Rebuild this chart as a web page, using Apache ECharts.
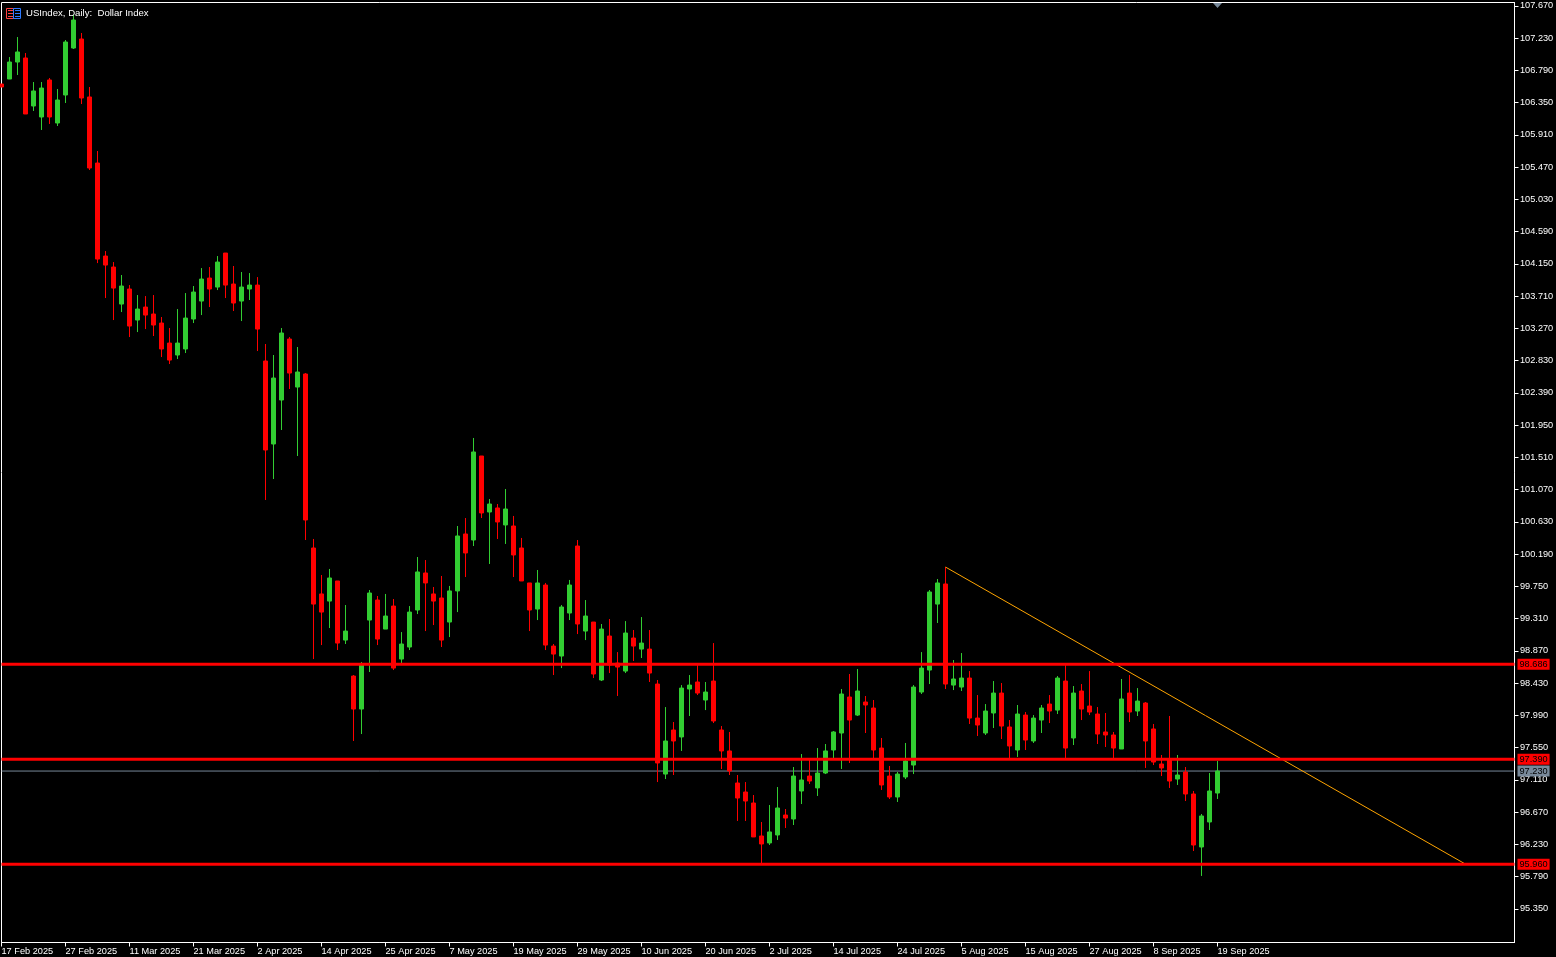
<!DOCTYPE html>
<html><head><meta charset="utf-8">
<style>html,body{margin:0;padding:0;background:#000;overflow:hidden}#c{width:1556px;height:957px}</style>
<script src="https://cdn.jsdelivr.net/npm/echarts@6/dist/echarts.min.js"></script>
</head><body><div id="c"></div>
<script>
const opens=[106.603,106.671,106.903,106.958,106.303,106.153,106.658,106.071,106.453,107.094,
107.217,106.426,105.525,104.256,104.106,103.601,103.806,103.383,103.560,103.465,
103.342,103.069,102.906,102.988,103.397,103.642,103.956,103.833,104.297,103.874,
103.642,103.806,103.860,102.824,101.692,102.292,103.124,102.469,102.647,100.273,
99.646,99.549,99.823,99.017,98.526,98.076,99.290,99.563,99.167,99.481,
98.758,98.922,99.427,99.932,99.646,99.591,99.263,99.687,100.464,100.382,
101.528,100.764,100.819,100.587,100.573,100.273,99.796,99.440,99.768,98.935,
98.799,99.386,100.300,99.140,99.263,98.472,99.072,98.703,98.594,99.045,
98.894,98.894,98.417,97.189,97.790,97.695,98.349,98.445,98.199,98.458,
97.790,97.504,97.067,96.944,96.794,96.344,96.249,96.358,96.630,96.576,
96.958,97.162,97.000,97.203,97.517,97.749,98.240,97.994,98.172,98.090,
97.544,97.162,96.876,97.149,97.312,98.308,98.608,99.508,99.782,98.403,
98.376,98.499,97.953,97.749,98.022,98.294,97.831,97.517,97.994,97.640,
97.926,98.144,98.062,98.458,97.681,98.322,98.117,98.008,97.763,97.722,
97.531,98.294,98.049,98.158,97.804,97.326,97.381,97.121,97.217,96.917,
96.194,96.535,96.930];
const closes=[106.562,106.903,107.040,106.194,106.508,106.548,106.153,106.385,107.176,107.476,
106.412,105.457,104.215,104.133,103.819,103.847,103.301,103.533,103.451,103.315,
102.988,102.837,103.069,103.410,103.765,103.942,103.806,104.174,103.860,103.615,
103.833,103.860,103.260,101.610,102.592,103.206,102.660,102.674,100.655,99.508,
99.399,99.864,98.976,99.140,98.076,98.676,99.659,99.031,99.345,98.635,
98.963,99.399,99.946,99.796,99.549,99.017,99.687,100.437,100.205,101.583,
100.751,100.873,100.628,100.805,100.178,99.823,99.427,99.796,98.949,98.826,
99.468,99.768,99.236,99.345,98.554,99.167,98.676,98.649,99.113,98.935,
98.976,98.567,97.340,97.640,97.640,98.362,98.403,98.294,98.308,97.913,
97.504,97.231,96.862,96.821,96.331,96.235,96.399,96.726,96.589,97.162,
97.108,97.094,97.203,97.504,97.763,98.281,97.926,98.322,98.131,97.517,
97.040,96.876,97.189,97.367,98.376,98.635,99.673,99.796,98.417,98.486,
98.499,97.953,97.858,98.049,98.294,97.844,97.572,98.008,97.653,97.953,
98.090,98.049,98.499,97.544,98.294,98.076,98.035,97.735,97.722,97.544,
98.213,98.035,98.185,97.640,97.353,97.272,97.094,97.176,96.917,96.221,
96.617,96.958,97.230];
const lows=[106.562,106.671,106.726,106.194,106.235,105.976,106.058,106.030,106.344,107.081,
106.330,105.430,104.160,103.683,103.383,103.492,103.151,103.219,103.260,103.165,
102.878,102.783,102.851,102.933,103.342,103.451,103.560,103.792,103.683,103.506,
103.369,103.656,102.960,100.928,101.214,101.883,102.442,101.528,100.382,98.758,
98.949,99.181,98.881,98.963,97.640,97.735,98.581,98.949,99.167,98.608,
98.676,98.881,99.372,99.140,99.222,98.922,99.058,99.399,99.877,100.300,
100.682,100.055,100.396,100.328,99.877,99.823,99.140,99.290,98.881,98.540,
98.635,99.290,99.099,99.017,98.499,98.458,98.567,98.254,98.567,98.731,
98.772,98.445,97.080,97.121,97.176,97.504,97.981,98.267,98.062,97.885,
97.258,97.176,96.549,96.549,96.331,95.976,96.221,96.290,96.453,96.494,
96.780,97.053,96.890,97.189,97.408,97.258,97.340,97.981,97.749,97.408,
96.972,96.849,96.808,97.121,97.189,98.281,98.417,99.250,98.349,98.335,
98.322,97.872,97.708,97.722,97.817,97.667,97.408,97.422,97.517,97.613,
97.749,97.885,98.008,97.408,97.585,97.926,97.994,97.599,97.558,97.408,
97.531,97.899,97.981,97.272,97.312,97.162,96.999,97.040,96.821,96.139,
95.799,96.426,96.849];
const highs=[106.603,106.971,107.244,107.026,106.630,106.630,106.685,106.535,107.203,107.544,
107.299,106.562,105.689,104.324,104.174,103.997,103.860,103.724,103.710,103.724,
103.424,103.274,103.533,103.751,103.847,104.092,104.106,104.256,104.297,104.120,
104.038,104.024,103.969,103.056,102.906,103.274,103.151,103.015,102.660,100.396,
99.905,99.987,99.823,99.495,98.540,98.717,99.700,99.618,99.646,99.577,
99.126,99.481,100.150,100.109,99.741,99.891,99.755,100.573,100.682,101.774,
101.528,100.941,100.873,101.078,100.710,100.410,99.796,99.973,99.796,98.963,
99.495,99.837,100.382,99.563,99.263,99.236,99.304,98.853,99.276,99.154,
99.331,99.154,98.472,98.103,97.899,98.403,98.540,98.676,98.445,98.976,
97.844,97.763,97.176,97.080,96.903,96.535,96.767,97.012,96.712,97.285,
97.462,97.381,97.544,97.599,97.776,98.349,98.554,98.622,98.254,98.199,
97.681,97.299,97.217,97.613,98.403,98.853,99.700,99.850,100.013,98.745,
98.840,98.594,98.267,98.144,98.458,98.431,97.926,98.131,98.035,97.994,
98.131,98.267,98.526,98.676,98.390,98.417,98.594,98.103,98.022,97.763,
98.486,98.540,98.362,98.172,97.872,97.449,97.981,97.449,97.285,96.958,
96.644,97.203,97.367];
const dateLabels=['17 Feb 2025','27 Feb 2025','11 Mar 2025','21 Mar 2025','2 Apr 2025','14 Apr 2025','25 Apr 2025','7 May 2025','19 May 2025','29 May 2025','10 Jun 2025','20 Jun 2025','2 Jul 2025','14 Jul 2025','24 Jul 2025','5 Aug 2025','15 Aug 2025','27 Aug 2025','8 Sep 2025','19 Sep 2025'];
const priceLabels=['95.350','95.790','96.230','96.670','97.110','97.550','97.990','98.430','98.870','99.310','99.750','100.190','100.630','101.070','101.510','101.950','102.390','102.830','103.270','103.710','104.150','104.590','105.030','105.470','105.910','106.350','106.790','107.230','107.670'];
const supportLevels=[98.686,97.39,95.96];
const currentPrice=97.23;
const trendBars=[118,183];
const trendValues=[100.013,95.96];
const barsPerLabel=8;
const xEnd=189.125;

const FONT='"Liberation Sans"';
const chart=echarts.init(document.getElementById('c'),null,{renderer:'canvas'});
const xTicks=dateLabels.map((_,i)=>i*barsPerLabel);
const candles=opens.map((o,i)=>[i,o,closes[i],lows[i],highs[i]]);
function level(value,color,z,width,name){
  return {type:'line',name,z,silent:true,showSymbol:false,symbol:'none',animation:false,clip:true,
    data:[[0,value],[xEnd,value]],lineStyle:{color,width},
    endLabel:{show:true,distance:3,formatter:()=>value.toFixed(3),color:'#000',backgroundColor:color,
      fontFamily:FONT,fontSize:9.2,lineHeight:11,padding:[0,2,0,2]}};
}
chart.setOption({
  animation:false,backgroundColor:'#000',
  title:{text:'USIndex, Daily:  Dollar Index',left:26,top:8,padding:0,
    textStyle:{color:'#fff',fontFamily:FONT,fontWeight:'normal',fontSize:9.6,lineHeight:11}},
  grid:{left:1.5,top:2.5,width:1513,height:940,show:true,backgroundColor:'#000',borderColor:'#fff',borderWidth:1,containLabel:false,outerBoundsMode:'none'},
  xAxis:{type:'value',min:0,max:xEnd,splitLine:{show:false},axisLine:{show:true,onZero:false,lineStyle:{color:'#fff',width:1}},
    axisTick:{show:true,length:4,customValues:xTicks,lineStyle:{color:'#fff',width:1}},
    axisLabel:{show:true,customValues:xTicks,align:'left',margin:4.5,color:'#fff',fontFamily:FONT,fontSize:9.2,hideOverlap:false,showMinLabel:true,showMaxLabel:true,
      formatter:v=>dateLabels[v/barsPerLabel]||''}},
  yAxis:{type:'value',position:'right',min:94.891,max:107.715,splitLine:{show:false},axisLine:{show:true,onZero:false,lineStyle:{color:'#fff',width:1}},scale:true,
    axisTick:{show:true,length:4,customValues:priceLabels.map(Number),lineStyle:{color:'#fff',width:1}},
    axisLabel:{show:true,customValues:priceLabels.map(Number),margin:5.5,padding:[2,0,0,0],color:'#fff',fontFamily:FONT,fontSize:9.2,hideOverlap:false,showMinLabel:true,showMaxLabel:true,
      formatter:v=>v.toFixed(3)}},
  series:[
    level(currentPrice,'#778899',1,1,'Bid'),
    {type:'candlestick',name:'USIndex',z:3,barWidth:4,clip:true,animation:false,silent:true,
      itemStyle:{color:'#32CD32',color0:'#FF0000',borderColor:'#32CD32',borderColor0:'#FF0000',borderWidth:1},
      encode:{x:0,y:[1,2,3,4]},data:candles},
    {type:'line',name:'Trend',z:4,silent:true,showSymbol:false,symbol:'none',animation:false,
      data:trendBars.map((b,i)=>[b,trendValues[i]]),lineStyle:{color:'#FFA500',width:1}},
    ...supportLevels.map((v,i)=>level(v,'#FF0000',5,3,'Level '+i))
  ],
  graphic:[
    {type:'polygon',z:10,silent:true,shape:{points:[[1213,3],[1222,3],[1217.5,8]]},style:{fill:'#778899'}},
    {type:'rect',z:10,silent:true,shape:{x:6.5,y:8.5,width:7,height:10},style:{fill:'none',stroke:'#FF4040',lineWidth:1}},
    {type:'rect',z:10,silent:true,shape:{x:13.5,y:8.5,width:7,height:10},style:{fill:'none',stroke:'#2E7BFF',lineWidth:1}},
    {type:'line',z:10,silent:true,shape:{x1:8,y1:10.5,x2:13,y2:10.5},style:{stroke:'#FF4040',lineWidth:1}},
    {type:'line',z:10,silent:true,shape:{x1:8,y1:13.5,x2:13,y2:13.5},style:{stroke:'#FF4040',lineWidth:1}},
    {type:'line',z:10,silent:true,shape:{x1:8,y1:16.5,x2:13,y2:16.5},style:{stroke:'#FF4040',lineWidth:1}},
    {type:'line',z:10,silent:true,shape:{x1:15,y1:10.5,x2:20,y2:10.5},style:{stroke:'#2E7BFF',lineWidth:1}},
    {type:'line',z:10,silent:true,shape:{x1:15,y1:13.5,x2:20,y2:13.5},style:{stroke:'#2E7BFF',lineWidth:1}},
    {type:'line',z:10,silent:true,shape:{x1:15,y1:16.5,x2:20,y2:16.5},style:{stroke:'#2E7BFF',lineWidth:1}}
  ]
});
</script></body></html>
